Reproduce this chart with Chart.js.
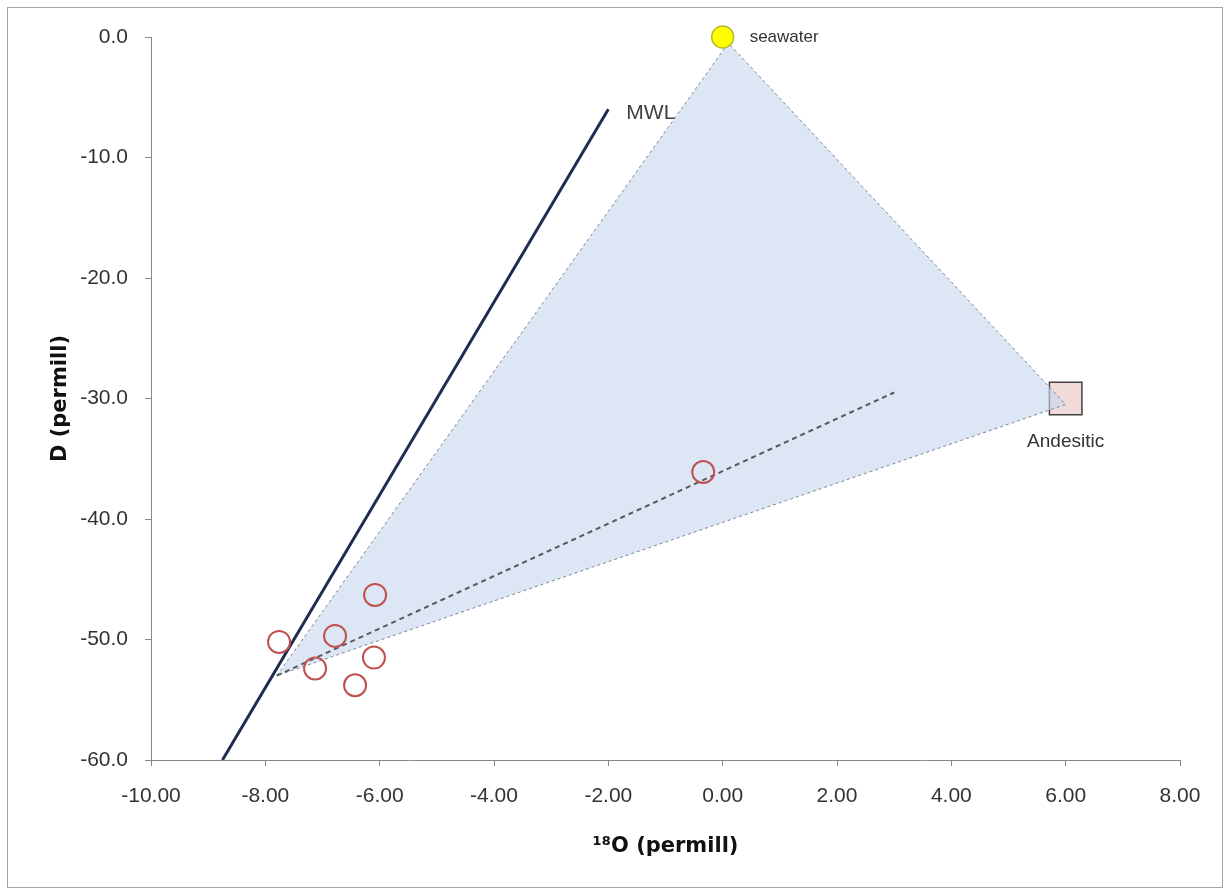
<!DOCTYPE html>
<html>
<head>
<meta charset="utf-8">
<script src="https://cdn.jsdelivr.net/npm/chart.js@4.4.1/dist/chart.umd.min.js"></script>
<style>
	html, body { margin: 0; padding: 0; background: #fff; }
	#wrap { width: 1227px; height: 893px; position: relative; }
</style>
</head>
<body>
<div id="wrap"><canvas id="chart"></canvas></div>
<script>
// samples (d18O, dD)
const sampleO18 = [-0.34, -6.08, -7.76, -6.78, -7.13, -6.10, -6.43];
const sampleD = [-36.1, -46.3, -50.2, -49.7, -52.4, -51.5, -53.8];

// end members
const seawaterO18 = [0];
const seawaterD = [0];
const andesiticO18 = [6];
const andesiticD = [-30];

// meteoric water line
const mwlO18 = [-8.75, -2];
const mwlD = [-60, -6];

// mixing triangle and trend
const triangleO18 = [-7.8, 0.1, 6, -7.8];
const triangleD = [-53, -0.5, -30.5, -53];
const trendO18 = [-7.8, 3];
const trendD = [-53, -29.5];

const xTicks = [-10, -8, -6, -4, -2, 0, 2, 4, 6, 8];
const yTicks = [-60, -50, -40, -30, -20, -10, 0];

const toPoints = (xs, ys) => xs.map((x, i) => ({ x: x, y: ys[i] }));

const frame = {
	id: 'frame',
	beforeDraw(chart) {
		const ctx = chart.ctx;
		ctx.save();
		ctx.fillStyle = '#fff';
		ctx.fillRect(0, 0, chart.width, chart.height);
		ctx.strokeStyle = '#a6a6a6';
		ctx.lineWidth = 1;
		ctx.strokeRect(7.5, 7.5, 1215, 880);
		ctx.restore();
	},
};

const notes = {
	id: 'notes',
	afterDatasetsDraw(chart) {
		const ctx = chart.ctx;
		const xs = chart.scales.x;
		const ys = chart.scales.y;
		ctx.save();
		ctx.textBaseline = 'middle';
		ctx.fillStyle = '#333';

		ctx.font = '17px "Liberation Sans", Arial, sans-serif';
		ctx.textAlign = 'left';
		ctx.fillText('seawater', xs.getPixelForValue(seawaterO18[0]) + 27, ys.getPixelForValue(seawaterD[0]));

		ctx.font = '19px "Liberation Sans", Arial, sans-serif';
		ctx.textAlign = 'center';
		ctx.fillText('Andesitic', xs.getPixelForValue(andesiticO18[0]), ys.getPixelForValue(andesiticD[0]) + 43);

		ctx.font = '21px "Liberation Sans", Arial, sans-serif';
		ctx.fillStyle = '#404040';
		ctx.textAlign = 'left';
		ctx.fillText('MWL', xs.getPixelForValue(mwlO18[1]) + 18, ys.getPixelForValue(mwlD[1]) + 4);
		ctx.restore();
	},
};

const tickFont = { family: '"Liberation Sans", Arial, sans-serif', size: 21 };
const titleFont = { family: '"DejaVu Sans", sans-serif', size: 21, weight: 'bold' };

new Chart(document.getElementById('chart'), {
	type: 'scatter',
	data: {
		datasets: [
			{
				label: 'samples',
				data: toPoints(sampleO18, sampleD),
				pointRadius: 11,
				pointBackgroundColor: 'rgba(0,0,0,0)',
				pointBorderColor: '#c0504d',
				pointBorderWidth: 2,
				order: 0,
			},
			{
				label: 'seawater',
				data: toPoints(seawaterO18, seawaterD),
				pointRadius: 11,
				pointBackgroundColor: '#ffff00',
				pointBorderColor: '#b8b832',
				pointBorderWidth: 1.5,
				clip: false,
				order: 1,
			},
			{
				label: 'trend',
				data: toPoints(trendO18, trendD),
				showLine: true,
				pointRadius: 0,
				borderColor: '#595959',
				borderWidth: 2,
				borderDash: [5, 4],
				order: 2,
			},
			{
				label: 'MWL',
				data: toPoints(mwlO18, mwlD),
				showLine: true,
				pointRadius: 0,
				borderColor: '#1f2d50',
				borderWidth: 3,
				order: 3,
			},
			{
				label: 'mixing',
				data: toPoints(triangleO18, triangleD),
				showLine: true,
				fill: 'shape',
				backgroundColor: 'rgba(196,214,238,0.6)',
				pointRadius: 0,
				borderColor: '#7d8797',
				borderWidth: 1,
				borderDash: [3, 3],
				order: 4,
			},
			{
				label: 'andesitic',
				data: toPoints(andesiticO18, andesiticD),
				pointStyle: 'rect',
				pointRadius: 23,
				pointBackgroundColor: '#f2dcdb',
				pointBorderColor: '#404040',
				pointBorderWidth: 1.5,
				clip: false,
				order: 5,
			},
		],
	},
	plugins: [frame, notes],
	options: {
		responsive: true,
		maintainAspectRatio: false,
		animation: false,
		events: [],
		layout: {
			padding: { left: 0, right: 47, top: 37, bottom: 0 },
		},
		plugins: {
			legend: { display: false },
			tooltip: { enabled: false },
		},
		scales: {
			x: {
				type: 'linear',
				min: xTicks[0],
				max: xTicks[xTicks.length - 1],
				afterFit(scale) {
					scale.height = 133;
				},
				afterBuildTicks(scale) {
					scale.ticks = xTicks.map((v) => ({ value: v }));
				},
				grid: {
					drawOnChartArea: false,
					drawTicks: true,
					tickLength: 6,
					color: '#888',
				},
				border: { display: true, color: '#888', width: 1 },
				ticks: {
					font: tickFont,
					color: '#333',
					padding: 18,
					maxRotation: 0,
					callback: (v) => v.toFixed(2),
				},
				title: {
					display: true,
					text: '¹⁸O (permill)',
					font: titleFont,
					color: '#111',
					padding: { top: 0, bottom: 34 },
				},
			},
			y: {
				type: 'linear',
				min: yTicks[0],
				max: yTicks[yTicks.length - 1],
				afterFit(scale) {
					scale.width = 151;
				},
				afterBuildTicks(scale) {
					scale.ticks = yTicks.map((v) => ({ value: v }));
				},
				grid: {
					drawOnChartArea: false,
					drawTicks: true,
					tickLength: 6,
					color: '#888',
				},
				border: { display: true, color: '#888', width: 1 },
				ticks: {
					font: tickFont,
					color: '#333',
					padding: 17,
					callback: (v) => v.toFixed(1),
				},
				title: {
					display: true,
					text: 'D (permill)',
					font: titleFont,
					color: '#111',
					padding: { top: 48, bottom: 0 },
				},
			},
		},
	},
});
</script>
</body>
</html>
